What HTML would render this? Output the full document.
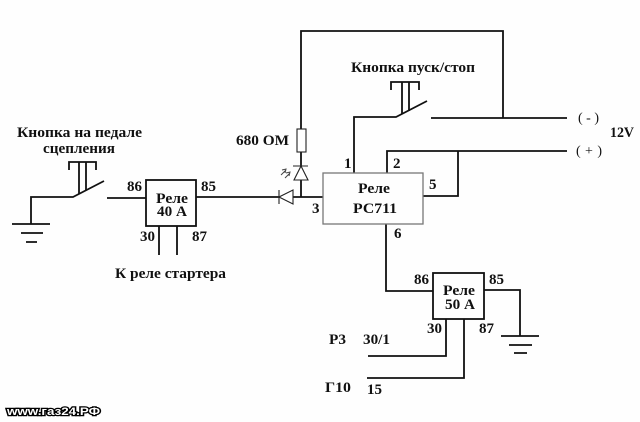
<!DOCTYPE html>
<html><head><meta charset="utf-8"><style>
html,body{margin:0;padding:0;background:#fff}
svg{display:block;filter:blur(.35px)}
text{font-family:"Liberation Serif","Noto Serif CJK SC",serif;font-weight:bold;font-size:15px;fill:#111}
.l{fill:none;stroke:#111;stroke-width:1.8}
</style></head><body>
<svg width="640" height="422" viewBox="0 0 640 422" xmlns="http://www.w3.org/2000/svg">
<rect width="640" height="422" fill="#fefefe"/>
<!-- left switch and ground -->
<path class="l" d="M31 224V197H73L104 181M12 224H50M21 233H43M26 242H37"/>
<path class="l" d="M69 170V162H96V170M79 162V194M86 162V190"/>
<path class="l" d="M107 198H146"/>
<rect class="l" x="146" y="180" width="50" height="46"/>
<path class="l" d="M159 226V255M177 226V255M196 197H279"/>
<!-- top loop, resistor, LED, diode -->
<path class="l" d="M301 129V31H503V118M431 118H567M301 152V166M301 180V197M293 197H323"/>
<rect x="297" y="129" width="9" height="23" fill="#fff" stroke="#222" stroke-width="1.1"/>
<path fill="#fff" stroke="#222" stroke-width="1.1" d="M301 166L294 180H308ZM293 166H308"/>
<path fill="none" stroke="#444" stroke-width="1" d="M281 175L286 170M285 178L290 173M282 170L286 169L285 173M286 173L290 172L289 176"/>
<path fill="#fff" stroke="#222" stroke-width="1.1" d="M279 197L293 190V204ZM279 190V204"/>
<!-- PC711 -->
<path class="l" d="M354 173V117H396L427 101M387 173V151H567M423 196H458V151M386 224V291H433"/>
<path class="l" d="M391 90V82H419V90M402 82V114M409 82V111"/>
<rect x="323" y="173" width="100" height="51" fill="none" stroke="#777" stroke-width="1.3"/>
<!-- relay 50A -->
<rect class="l" x="433" y="273" width="51" height="46"/>
<path class="l" d="M484 290H520V336M501 336H539M509 345H532M514 353H527"/>
<path class="l" d="M446 319V356H368M464 319V378H367"/>
<!-- labels -->
<text x="17" y="137" textLength="125" lengthAdjust="spacingAndGlyphs">Кнопка на педале</text>
<text x="43" y="153" textLength="72" lengthAdjust="spacingAndGlyphs">сцепления</text>
<text x="127" y="191" textLength="15" lengthAdjust="spacingAndGlyphs">86</text>
<text x="201" y="191" textLength="15" lengthAdjust="spacingAndGlyphs">85</text>
<text x="156" y="203" textLength="32" lengthAdjust="spacingAndGlyphs">Реле</text>
<text x="157" y="216" textLength="30" lengthAdjust="spacingAndGlyphs">40 А</text>
<text x="140" y="241" textLength="15" lengthAdjust="spacingAndGlyphs">30</text>
<text x="192" y="241" textLength="15" lengthAdjust="spacingAndGlyphs">87</text>
<text x="115" y="278" textLength="111" lengthAdjust="spacingAndGlyphs">К реле стартера</text>
<text x="236" y="145" textLength="53" lengthAdjust="spacingAndGlyphs">680 ОМ</text>
<text x="351" y="72" textLength="124" lengthAdjust="spacingAndGlyphs">Кнопка пуск/стоп</text>
<text x="344" y="168">1</text>
<text x="393" y="168">2</text>
<text x="429" y="189">5</text>
<text x="312" y="213">3</text>
<text x="358" y="193" textLength="32" lengthAdjust="spacingAndGlyphs">Реле</text>
<text x="353" y="213" textLength="44" lengthAdjust="spacingAndGlyphs">РС711</text>
<text x="394" y="238">6</text>
<text x="578" y="122" textLength="21" style="font-weight:normal;font-size:14px">( - )</text>
<text x="576" y="155" textLength="26" style="font-weight:normal;font-size:14px">( + )</text>
<text x="610" y="137" textLength="24" lengthAdjust="spacingAndGlyphs">12V</text>
<text x="414" y="284" textLength="15" lengthAdjust="spacingAndGlyphs">86</text>
<text x="489" y="284" textLength="15" lengthAdjust="spacingAndGlyphs">85</text>
<text x="443" y="295" textLength="32" lengthAdjust="spacingAndGlyphs">Реле</text>
<text x="445" y="309" textLength="30" lengthAdjust="spacingAndGlyphs">50 А</text>
<text x="427" y="333" textLength="15" lengthAdjust="spacingAndGlyphs">30</text>
<text x="479" y="333" textLength="15" lengthAdjust="spacingAndGlyphs">87</text>
<text x="329" y="344" textLength="17" lengthAdjust="spacingAndGlyphs">Р3</text>
<text x="363" y="344" textLength="27" lengthAdjust="spacingAndGlyphs">30/1</text>
<text x="325" y="392" textLength="26" lengthAdjust="spacingAndGlyphs">Г10</text>
<text x="367" y="394" textLength="15" lengthAdjust="spacingAndGlyphs">15</text>
<text x="7" y="415" textLength="93" lengthAdjust="spacingAndGlyphs" style="font-family:'Liberation Sans',sans-serif;font-size:11px;fill:#fff;stroke:#000;stroke-width:2.6px;paint-order:stroke">www.газ24.РФ</text>
</svg>
</body></html>
